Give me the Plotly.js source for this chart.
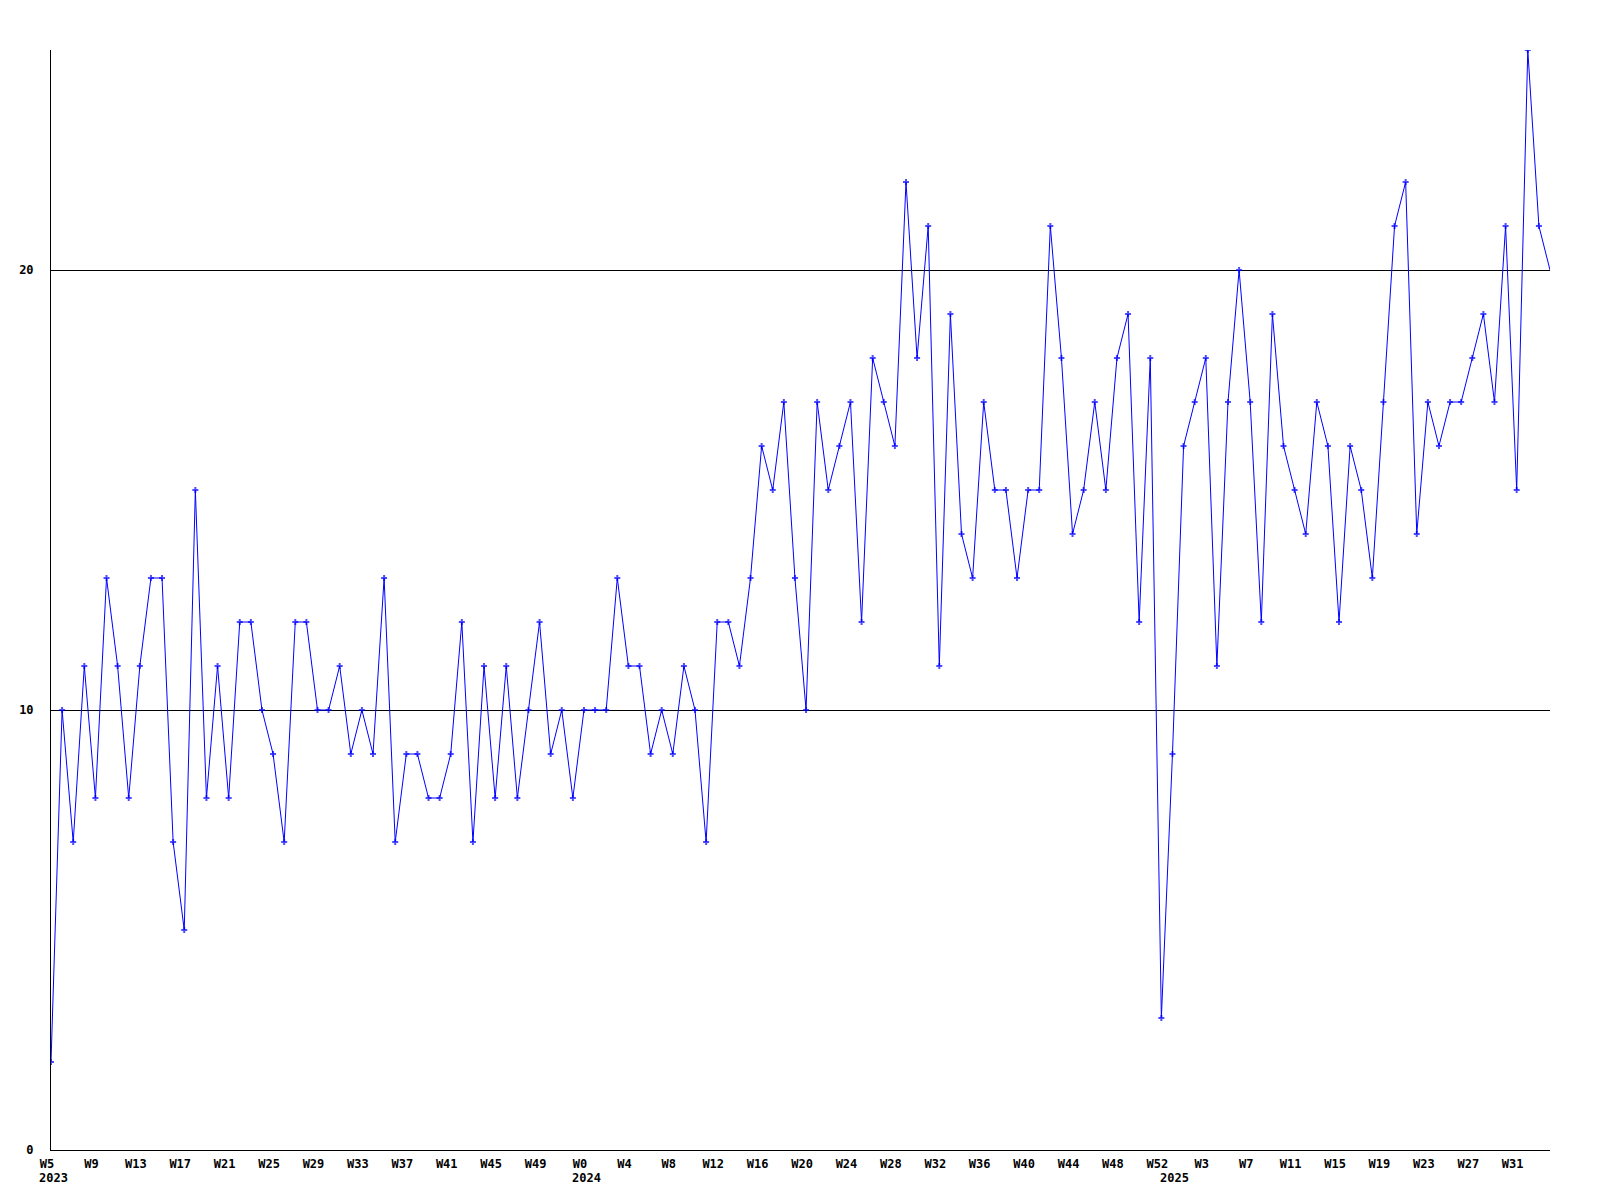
<!DOCTYPE html>
<html>
<head>
<meta charset="utf-8">
<script src="https://cdn.plot.ly/plotly-3.0.1.min.js"></script>
<style>html,body{margin:0;padding:0;background:#fff;}#chart{width:1600px;height:1200px;}</style>
</head>
<body>
<div id="chart"></div>
<script>
// Week ranges per year (first week, last week)
const years = [2023, 2024, 2025];
const firstWeek = [5, 0, 0];
const lastWeek = [52, 52, 34];

// Weekly values, in order from 2023 W5 to 2025 W34
const values2023 = [2, 10, 7, 11, 8, 13, 11, 8, 11, 13, 13, 7, 5, 15, 8, 11, 8, 12, 12, 10, 9, 7, 12, 12,
  10, 10, 11, 9, 10, 9, 13, 7, 9, 9, 8, 8, 9, 12, 7, 11, 8, 11, 8, 10, 12, 9, 10, 8];
const values2024 = [10, 10, 10, 13, 11, 11, 9, 10, 9, 11, 10, 7, 12, 12, 11, 13, 16, 15, 17, 13, 10, 17,
  15, 16, 17, 12, 18, 17, 16, 22, 18, 21, 11, 19, 14, 13, 17, 15, 15, 13, 15, 15, 21, 18, 14, 15, 17, 15,
  18, 19, 12, 18, 3];
const values2025 = [9, 16, 17, 18, 11, 17, 20, 17, 12, 19, 16, 15, 14, 17, 16, 12, 16, 15, 13, 17, 21, 22,
  14, 17, 16, 17, 17, 18, 19, 17, 21, 15, 25, 21, 20];

const yTickVals = [0, 10, 20];

// Build categories
const valuesByYear = [values2023, values2024, values2025];
const cats = [], ys = [], weekLabel = [];
years.forEach((yr, i) => {
  for (let w = firstWeek[i]; w <= lastWeek[i]; w++) {
    cats.push(yr + ' W' + w);
    weekLabel.push('W' + w);
  }
  valuesByYear[i].forEach(v => ys.push(v));
});

const tickvals = [], ticktext = [];
for (let i = 0; i < cats.length; i += 4) { tickvals.push(cats[i]); ticktext.push(weekLabel[i]); }

const sizes = ys.map((v, i) => i === ys.length - 1 ? 0 : 5);

const font = {family: 'DejaVu Sans Mono, monospace', size: 12, color: '#000', weight: 'bold'};

const annotations = years.map((yr, i) => ({
  x: yr + ' W' + firstWeek[i], xref: 'x', y: 0, yref: 'paper',
  text: String(yr), showarrow: false, xanchor: 'left', yanchor: 'top',
  xshift: -14, yshift: -19, font: font
}));

const trace = {
  x: cats, y: ys, type: 'scatter', mode: 'lines+markers',
  line: {color: '#0000ff', width: 1},
  marker: {symbol: 'cross', size: sizes, color: '#0000ff', line: {width: 0}},
  hoverinfo: 'x+y'
};

const layout = {
  width: 1600, height: 1200,
  margin: {l: 51, r: 50, t: 50, b: 50},
  paper_bgcolor: '#fff', plot_bgcolor: '#fff',
  showlegend: false,
  font: font,
  xaxis: {
    type: 'category', range: [0, cats.length - 1],
    tickvals: tickvals, ticktext: ticktext, tickangle: 0,
    showgrid: false, zeroline: false, showline: true, linecolor: '#000', linewidth: 1,
    ticks: '', ticklabelshift: -4, ticklabelstandoff: 3, tickfont: font
  },
  yaxis: {
    range: [0, 25], tickvals: yTickVals, ticktext: yTickVals.map(String),
    showgrid: true, gridcolor: '#000', gridwidth: 1,
    zeroline: false, showline: true, linecolor: '#000', linewidth: 1,
    ticks: '', ticklabelstandoff: 14, tickfont: font
  },
  annotations: annotations
};

Plotly.newPlot('chart', [trace], layout, {staticPlot: true});
</script>
</body>
</html>
